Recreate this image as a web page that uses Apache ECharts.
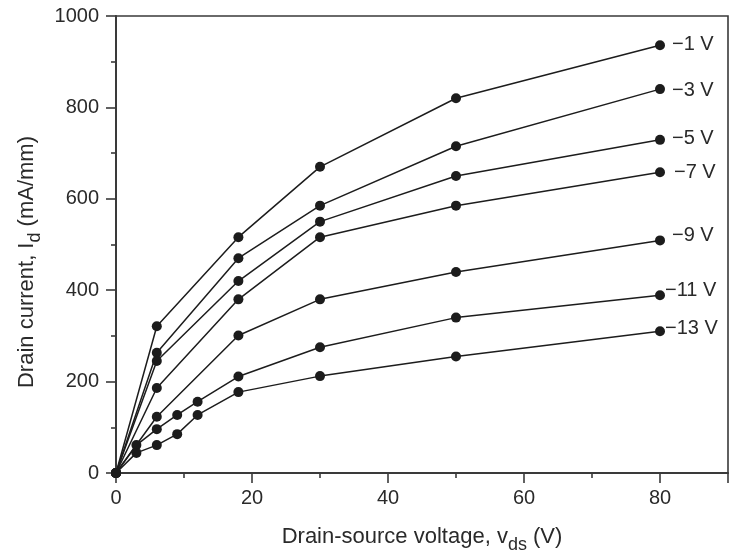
<!DOCTYPE html>
<html>
<head>
<meta charset="utf-8">
<script src="https://cdn.jsdelivr.net/npm/echarts@6/dist/echarts.min.js"></script>
<style>html,body{margin:0;padding:0;background:#fff}#c{width:729px;height:554px}</style>
</head>
<body>
<div id="c"></div>
<script>
// Drain-source voltage sample points (V)
const vdsMain = [0, 6, 18, 30, 50, 80];
const vdsLow = [0, 3, 6, 9, 12, 18, 30, 50, 80];
// Drain current (mA/mm) per gate voltage
const id_m1 = [0, 321, 516, 670, 820, 936];
const id_m3 = [0, 263, 470, 585, 715, 840];
const id_m5 = [0, 245, 420, 550, 650, 729];
const id_m7 = [0, 186, 380, 516, 585, 658];
const id_m9 = [0, 123, 301, 380, 440, 509];
const id_m11 = [0, 61, 96, 127, 156, 211, 275, 340, 389];
const id_m13 = [0, 44, 61, 85, 127, 177, 212, 255, 310];
const seriesNames = ['−1 V', '−3 V', '−5 V', '−7 V', '−9 V', '−11 V', '−13 V'];
const xTicks = [0, 20, 40, 60, 80];
const yTicks = [0, 200, 400, 600, 800, 1000];

const ink = '#1c1c1c';
const font = "'Liberation Sans', Arial, Helvetica, sans-serif";

function pairs(xs, ys) { return xs.map((x, i) => [x, ys[i]]); }

const seriesDefs = [
  { name: seriesNames[0], data: pairs(vdsMain, id_m1), dist: 12, dy: -1 },
  { name: seriesNames[1], data: pairs(vdsMain, id_m3), dist: 12, dy: 1 },
  { name: seriesNames[2], data: pairs(vdsMain, id_m5), dist: 12, dy: -1 },
  { name: seriesNames[3], data: pairs(vdsMain, id_m7), dist: 14, dy: 0 },
  { name: seriesNames[4], data: pairs(vdsMain, id_m9), dist: 12, dy: -5 },
  { name: seriesNames[5], data: pairs(vdsLow, id_m11), dist: 5, dy: -5 },
  { name: seriesNames[6], data: pairs(vdsLow, id_m13), dist: 5, dy: -3 }
];

const subRich = {
  m: { fontSize: 22, lineHeight: 26, color: '#2a2a2a', fontFamily: font },
  s: { fontSize: 18, lineHeight: 18, padding: [16, 0, 0, 0], color: '#2a2a2a', fontFamily: font }
};

const chart = echarts.init(document.getElementById('c'), null, { renderer: 'canvas' });
chart.setOption({
  animation: false,
  backgroundColor: '#fff',
  grid: { left: 116, right: 1, top: 16, bottom: 81, outerBoundsMode: 'none', containLabel: false,
    show: true, borderColor: '#3a3a3a', borderWidth: 1.6, backgroundColor: 'transparent' },
  xAxis: {
    type: 'value', min: 0, max: 90, interval: 20,
    name: '{m|Drain-source voltage, v}{s|ds}{m| (V)}',
    nameLocation: 'middle', nameGap: 51,
    nameTextStyle: { rich: subRich },
    axisLine: { show: true, onZero: false, lineStyle: { color: '#3a3a3a', width: 2 } },
    axisTick: { show: true, inside: false, length: 10, lineStyle: { color: '#3a3a3a', width: 1.6 } },
    minorTick: { show: true, splitNumber: 2, length: 5, lineStyle: { color: '#3a3a3a', width: 1.6 } },
    splitLine: { show: false },
    axisLabel: { fontSize: 20, color: '#2a2a2a', fontFamily: font, margin: 15,
      formatter: v => xTicks.includes(v) ? String(v) : '' }
  },
  yAxis: {
    type: 'value', min: 0, max: 1000, interval: 200,
    name: '{m|Drain current, I}{s|d}{m| (mA/mm)}',
    nameLocation: 'middle', nameGap: 74,
    nameTextStyle: { rich: subRich, padding: [0, 35, 0, 0] },
    axisLine: { show: true, onZero: false, lineStyle: { color: '#3a3a3a', width: 2 } },
    axisTick: { show: true, inside: false, length: 10, lineStyle: { color: '#3a3a3a', width: 1.6 } },
    minorTick: { show: true, splitNumber: 2, length: 5, lineStyle: { color: '#3a3a3a', width: 1.6 } },
    splitLine: { show: false },
    axisLabel: { fontSize: 20, color: '#2a2a2a', fontFamily: font, margin: 17,
      formatter: v => yTicks.includes(v) ? String(v) : '' }
  },
  series: seriesDefs.map(d => ({
    type: 'line',
    name: d.name,
    data: d.data,
    symbol: 'circle',
    symbolSize: 10,
    showAllSymbol: true,
    clip: false,
    itemStyle: { color: ink },
    lineStyle: { color: ink, width: 1.5 },
    endLabel: { show: true, formatter: d.name, distance: d.dist, offset: [0, d.dy],
      fontSize: 20, color: '#2a2a2a', fontFamily: font }
  }))
});
</script>
</body>
</html>
